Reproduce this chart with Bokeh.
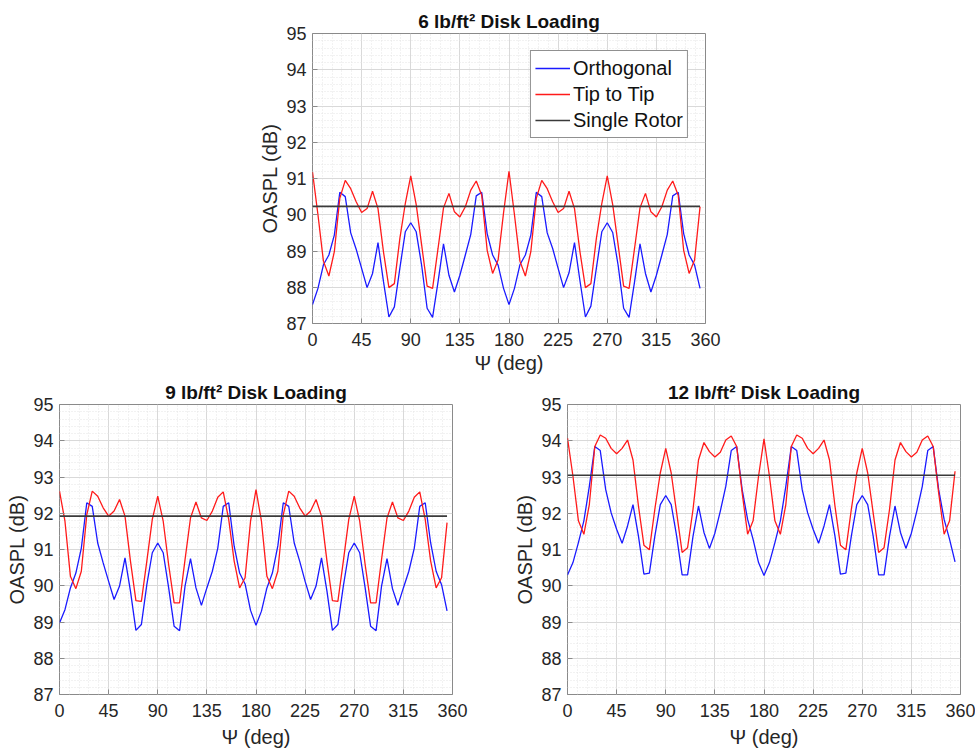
from bokeh.plotting import figure
from bokeh.models import Range1d, SingleIntervalTicker, Legend, LegendItem, Spacer
from bokeh.layouts import column, row
from bokeh.embed import file_html
from bokeh.resources import INLINE

# Azimuth angle (deg)
PSI = [0, 5, 10, 15, 20, 25, 30, 35, 40, 45, 50, 55, 60, 65, 70, 75, 80, 85,
       90, 95, 100, 105, 110, 115, 120, 125, 130, 135, 140, 145, 150, 155, 160, 165, 170, 175,
       180, 185, 190, 195, 200, 205, 210, 215, 220, 225, 230, 235, 240, 245, 250, 255, 260, 265,
       270, 275, 280, 285, 290, 295, 300, 305, 310, 315, 320, 325, 330, 335, 340, 345, 350, 355]

TITLES = ["6 lb/ft\u00b2 Disk Loading", "9 lb/ft\u00b2 Disk Loading", "12 lb/ft\u00b2 Disk Loading"]
SERIES = ["Orthogonal", "Tip to Tip", "Single Rotor"]

# 6 lb/ft^2
ORTH_6 = [87.52, 87.97, 88.62, 88.89, 89.44, 90.62, 90.50, 89.50, 89.05, 88.52, 87.99, 88.38,
          89.23, 88.16, 87.18, 87.46, 88.52, 89.53, 89.78, 89.53, 88.60, 87.42, 87.17, 88.15,
          89.20, 88.33, 87.87, 88.33, 88.89, 89.46, 90.52, 90.62, 89.48, 88.89, 88.61, 87.97,
          87.52, 87.97, 88.62, 88.89, 89.44, 90.62, 90.50, 89.50, 89.07, 88.52, 87.99, 88.40,
          89.23, 88.18, 87.18, 87.48, 88.52, 89.53, 89.78, 89.51, 88.60, 87.42, 87.17, 88.15,
          89.20, 88.38, 87.87, 88.33, 88.89, 89.46, 90.52, 90.62, 89.48, 88.89, 88.61, 87.97]
TIP_6 = [91.18, 90.00, 88.72, 88.31, 88.98, 90.45, 90.95, 90.72, 90.36, 90.06, 90.17, 90.65,
         90.17, 88.98, 87.99, 88.10, 89.34, 90.31, 91.07, 90.28, 89.16, 88.03, 87.97, 89.07,
         90.19, 90.59, 90.08, 89.94, 90.22, 90.68, 90.93, 90.54, 89.02, 88.38, 88.75, 90.05,
         91.20, 90.00, 88.72, 88.31, 88.98, 90.45, 90.95, 90.72, 90.36, 90.06, 90.17, 90.65,
         90.17, 88.98, 87.99, 88.10, 89.34, 90.31, 91.07, 90.28, 89.16, 88.03, 87.97, 89.07,
         90.19, 90.59, 90.08, 89.94, 90.22, 90.68, 90.93, 90.54, 89.02, 88.38, 88.75, 90.22]
SINGLE_6 = [90.23, 90.23]

# 9 lb/ft^2
ORTH_9 = [88.97, 89.34, 89.94, 90.35, 91.04, 92.29, 92.19, 91.18, 90.63, 90.12, 89.62, 89.99,
          90.77, 89.85, 88.77, 88.93, 90.03, 90.91, 91.18, 90.91, 89.94, 88.88, 88.76, 89.99,
          90.75, 89.94, 89.46, 89.94, 90.40, 91.04, 92.19, 92.29, 91.09, 90.35, 90.05, 89.32,
          88.91, 89.30, 89.94, 90.35, 91.10, 92.29, 92.19, 91.18, 90.68, 90.12, 89.62, 89.99,
          90.77, 89.85, 88.77, 88.93, 89.99, 90.91, 91.18, 90.91, 89.94, 88.88, 88.76, 89.99,
          90.75, 89.92, 89.46, 89.94, 90.40, 91.04, 92.19, 92.29, 91.18, 90.40, 90.03, 89.31]
TIP_9 = [92.61, 91.78, 90.26, 89.92, 90.40, 91.96, 92.61, 92.47, 92.15, 91.92, 92.06, 92.38,
         91.92, 90.68, 89.59, 89.57, 90.68, 91.83, 92.47, 91.78, 90.58, 89.53, 89.53, 90.72,
         91.87, 92.31, 91.87, 91.80, 92.06, 92.44, 92.59, 91.83, 90.68, 89.94, 90.22, 91.78,
         92.65, 91.78, 90.26, 89.92, 90.40, 91.96, 92.61, 92.47, 92.15, 91.92, 92.06, 92.38,
         91.92, 90.68, 89.59, 89.57, 90.68, 91.83, 92.47, 91.78, 90.58, 89.53, 89.53, 90.72,
         91.87, 92.31, 91.87, 91.80, 92.06, 92.44, 92.59, 91.83, 90.68, 89.94, 90.22, 91.74]
SINGLE_9 = [91.92, 91.92]

# 12 lb/ft^2
ORTH_12 = [90.30, 90.64, 91.19, 91.79, 92.74, 93.84, 93.73, 92.65, 92.01, 91.56, 91.17, 91.65,
           92.24, 91.37, 90.32, 90.35, 91.37, 92.24, 92.49, 92.24, 91.37, 90.30, 90.30, 91.37,
           92.20, 91.47, 91.03, 91.45, 92.06, 92.74, 93.73, 93.84, 92.65, 91.83, 91.28, 90.64,
           90.28, 90.64, 91.19, 91.79, 92.74, 93.84, 93.73, 92.65, 92.01, 91.56, 91.17, 91.65,
           92.24, 91.37, 90.32, 90.35, 91.37, 92.24, 92.49, 92.24, 91.37, 90.30, 90.30, 91.37,
           92.20, 91.47, 91.03, 91.45, 92.06, 92.74, 93.73, 93.84, 92.65, 91.83, 91.28, 90.66]
TIP_12 = [94.07, 93.02, 91.79, 91.42, 92.24, 93.84, 94.16, 94.07, 93.79, 93.64, 93.79, 94.02,
          93.47, 92.20, 91.12, 90.99, 92.11, 93.11, 93.79, 93.11, 92.01, 90.92, 91.05, 92.11,
          93.47, 93.95, 93.70, 93.55, 93.68, 94.02, 94.13, 93.84, 92.56, 91.42, 91.79, 93.02,
          94.05, 93.02, 91.79, 91.42, 92.24, 93.84, 94.16, 94.07, 93.79, 93.64, 93.79, 94.02,
          93.47, 92.20, 91.12, 90.99, 92.11, 93.11, 93.79, 93.11, 92.01, 90.92, 91.05, 92.11,
          93.47, 93.95, 93.70, 93.55, 93.68, 94.02, 94.13, 93.84, 92.56, 91.42, 91.79, 93.16]
SINGLE_12 = [93.05, 93.05]
SINGLE_X = [0, 355]

FONT = "Liberation Sans"
TXT = "#262626"
BOX = "#8a8a8a"
BLUE = "#1a1aff"
RED = "#ff1a1a"
BLACK = "#3a3a3a"


def style_axis(ax):
    ax.axis_line_color = None
    ax.major_tick_in = 5
    ax.major_tick_out = 0
    ax.minor_tick_in = 0
    ax.minor_tick_out = 0
    ax.major_tick_line_color = BOX
    ax.major_label_text_font = FONT
    ax.major_label_text_color = TXT
    ax.major_label_text_font_size = "18px"
    ax.axis_label_text_font = FONT
    ax.axis_label_text_font_size = "20px"
    ax.axis_label_text_font_style = "normal"
    ax.axis_label_text_color = TXT


def make_fig(title, orth, tip, single, bl, bt, br, bb, xlab_standoff, legend=False):
    p = figure(frame_width=393, frame_height=290,
               x_range=Range1d(0, 360), y_range=Range1d(87, 95),
               output_backend="svg", toolbar_location=None,
               min_border_left=bl, min_border_top=bt,
               min_border_right=br, min_border_bottom=bb,
               title=title)
    p.background_fill_color = "white"
    p.border_fill_color = "white"
    p.outline_line_color = BOX
    p.outline_line_width = 1

    p.title.text_font = FONT
    p.title.text_font_size = "19px"
    p.title.text_font_style = "bold"
    p.title.text_color = "#111111"
    p.title.align = "center"
    p.title.standoff = 3

    p.xaxis.ticker = SingleIntervalTicker(interval=45, num_minor_ticks=5)
    p.yaxis.ticker = SingleIntervalTicker(interval=1, num_minor_ticks=5)
    p.xaxis.axis_label = "\u03a8 (deg)"
    p.yaxis.axis_label = "OASPL (dB)"
    style_axis(p.xaxis[0])
    style_axis(p.yaxis[0])
    p.xaxis.major_label_standoff = 9
    p.xaxis.axis_label_standoff = xlab_standoff
    p.yaxis.major_label_standoff = 6
    p.yaxis.axis_label_standoff = 2

    p.xgrid.grid_line_color = "#d9d9d9"
    p.ygrid.grid_line_color = "#d9d9d9"
    p.xgrid.minor_grid_line_color = "#e4e4e4"
    p.ygrid.minor_grid_line_color = "#e4e4e4"
    p.xgrid.minor_grid_line_dash = "1 2"
    p.ygrid.minor_grid_line_dash = "1 2"

    r1 = p.line(PSI, orth, line_color=BLUE, line_width=1.3)
    r2 = p.line(PSI, tip, line_color=RED, line_width=1.3)
    r3 = p.line(SINGLE_X, single, line_color=BLACK, line_width=1.6)

    if legend:
        lg = Legend(items=[LegendItem(label=SERIES[0], renderers=[r1]),
                           LegendItem(label=SERIES[1], renderers=[r2]),
                           LegendItem(label=SERIES[2], renderers=[r3])],
                    location="top_right")
        lg.margin = 17
        lg.padding = 4
        lg.spacing = 0
        lg.label_height = 26
        lg.glyph_height = 26
        lg.glyph_width = 35
        lg.label_standoff = 3
        lg.label_text_font = FONT
        lg.label_text_font_size = "20px"
        lg.label_text_color = "#111111"
        lg.border_line_color = "#222222"
        lg.border_line_width = 1
        lg.background_fill_color = "white"
        lg.background_fill_alpha = 1
        p.add_layout(lg)
    return p


p1 = make_fig(TITLES[0], ORTH_6, TIP_6, SINGLE_6, 59, 33, 20, 55, 3, legend=True)
p2 = make_fig(TITLES[1], ORTH_9, TIP_9, SINGLE_9, 59, 25, 56, 58, 6)
p3 = make_fig(TITLES[2], ORTH_12, TIP_12, SINGLE_12, 59, 25, 15, 58, 6)

page = column(row(Spacer(width=253, height=378), p1), row(p2, p3))

open("out.html", "w").write(file_html(page, INLINE))
